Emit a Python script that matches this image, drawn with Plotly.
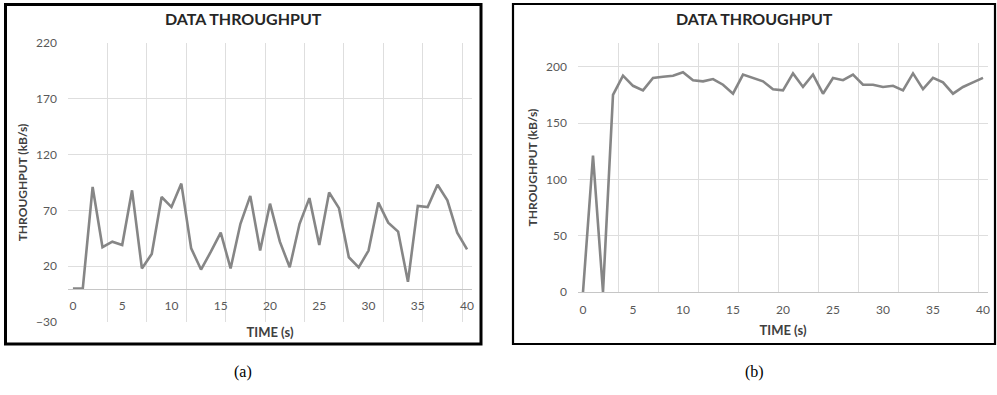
import plotly.graph_objects as go

# Time axis (s), one sample per second
time_s = list(range(0, 41))

# Throughput, case (a)
throughput_a = [0, 0, 91, 37, 42, 39, 88, 18, 31, 82, 73, 94, 36, 17, 33, 50,
                18, 58, 83, 34, 76, 42, 19, 58, 81, 39, 86, 72, 28, 19, 34, 77,
                59, 51, 6, 74, 73, 93, 79, 50, 35]

# Throughput, case (b)
throughput_b = [0, 121, 0, 175, 192, 183, 179, 190, 191, 192, 195, 188, 187, 189,
                184, 176, 193, 190, 187, 180, 179, 194, 182, 193, 176, 190, 188,
                193, 184, 184, 182, 183, 179, 194, 180, 190, 186, 176, 182, 186, 190]

x_tick_vals = [0, 5, 10, 15, 20, 25, 30, 35, 40]
y_ticks_a = [-30, 20, 70, 120, 170, 220]
y_ticks_b = [0, 50, 100, 150, 200]

chart_title = "DATA THROUGHPUT"
x_title = "TIME (s)"
y_title = "THROUGHPUT (kB/s)"
panel_captions = ["(a)", "(b)"]

W, H = 997, 395
FONT = "Lato, 'Open Sans', sans-serif"
LINE = "#868686"
GRID = "#dedede"
AXLINE = "#c6c6c6"
TICKC = "#595959"
TITLEC = "#404040"


def px_x(p):
    return p / W


def px_y(p):
    return 1 - p / H


fig = go.Figure()
fig.add_trace(go.Scatter(x=time_s, y=throughput_a, mode="lines",
                         line=dict(color=LINE, width=2.6), xaxis="x", yaxis="y",
                         showlegend=False, hoverinfo="x+y"))
fig.add_trace(go.Scatter(x=time_s, y=throughput_b, mode="lines",
                         line=dict(color=LINE, width=2.6), xaxis="x2", yaxis="y2",
                         showlegend=False, hoverinfo="x+y"))

# plot-area geometry
a_x = [px_x(68), px_x(472)]
a_y = [px_y(322), px_y(43)]
b_x = [px_x(578), px_x(988)]
b_y = [px_y(292), px_y(43)]

ya_range = [-30, 220]
yb_range = [0, 221]
xr = [-0.5, 40.5]

# category axis in (a) crosses the value axis at zero
a_cross = a_y[0] + (0 - ya_range[0]) / (ya_range[1] - ya_range[0]) * (a_y[1] - a_y[0])

common_x = dict(
    range=xr, tickmode="array", tickvals=x_tick_vals,
    showgrid=False, zeroline=False, ticks="", automargin=False,
    tickfont=dict(family=FONT, size=12, color=TICKC),
    showline=True, linecolor=AXLINE, linewidth=1.3,
    minor=dict(tickmode="linear", tick0=-0.5, dtick=4, showgrid=True,
               gridcolor=GRID, gridwidth=1, ticks=""),
    title=dict(text="<b>" + x_title + "</b>",
               font=dict(family=FONT, size=13, color=TITLEC)),
    fixedrange=True,
)
common_y = dict(
    tickmode="array", showgrid=True, gridcolor=GRID, gridwidth=1,
    zeroline=False, ticks="", showline=False, automargin=False,
    tickfont=dict(family=FONT, size=12, color=TICKC),
    ticklabelstandoff=10,
    title=dict(text="<b>" + y_title + "</b>",
               font=dict(family=FONT, size=12, color=TITLEC), standoff=5),
    fixedrange=True,
)

fig.update_layout(
    template="none",
    width=W, height=H,
    margin=dict(l=0, r=0, t=0, b=0, autoexpand=False),
    paper_bgcolor="white", plot_bgcolor="white",
    xaxis=dict(common_x, domain=a_x, anchor="free", position=a_cross,
               ticklabelstandoff=6),
    yaxis=dict(common_y, domain=a_y, range=ya_range, tickvals=y_ticks_a,
               anchor="x"),
    xaxis2=dict(common_x, domain=b_x, anchor="y2", ticklabelstandoff=6),
    yaxis2=dict(common_y, domain=b_y, range=yb_range, tickvals=y_ticks_b,
                anchor="x2"),
)
fig.layout.xaxis.title.standoff = 15
fig.layout.xaxis2.title.standoff = 10

# chart titles and panel captions
for cx, cap in zip([243, 754], panel_captions):
    fig.add_annotation(text="<b>" + chart_title + "</b>", x=px_x(cx), y=px_y(18),
                       xref="paper", yref="paper", showarrow=False,
                       xanchor="center", yanchor="middle",
                       font=dict(family=FONT, size=16, color="#262626"))
    fig.add_annotation(text=cap, x=px_x(cx), y=px_y(372),
                       xref="paper", yref="paper", showarrow=False,
                       xanchor="center", yanchor="middle",
                       font=dict(family="'Liberation Serif', serif", size=16,
                                 color="black"))

# chart frames
fig.add_shape(type="rect", xref="paper", yref="paper",
              x0=px_x(5.5), x1=px_x(481), y0=px_y(344), y1=px_y(4.5),
              line=dict(color="black", width=3), layer="above")
fig.add_shape(type="rect", xref="paper", yref="paper",
              x0=px_x(513), x1=px_x(995), y0=px_y(344), y1=px_y(4),
              line=dict(color="black", width=2.2), layer="above")

fig.write_html("out.html")
